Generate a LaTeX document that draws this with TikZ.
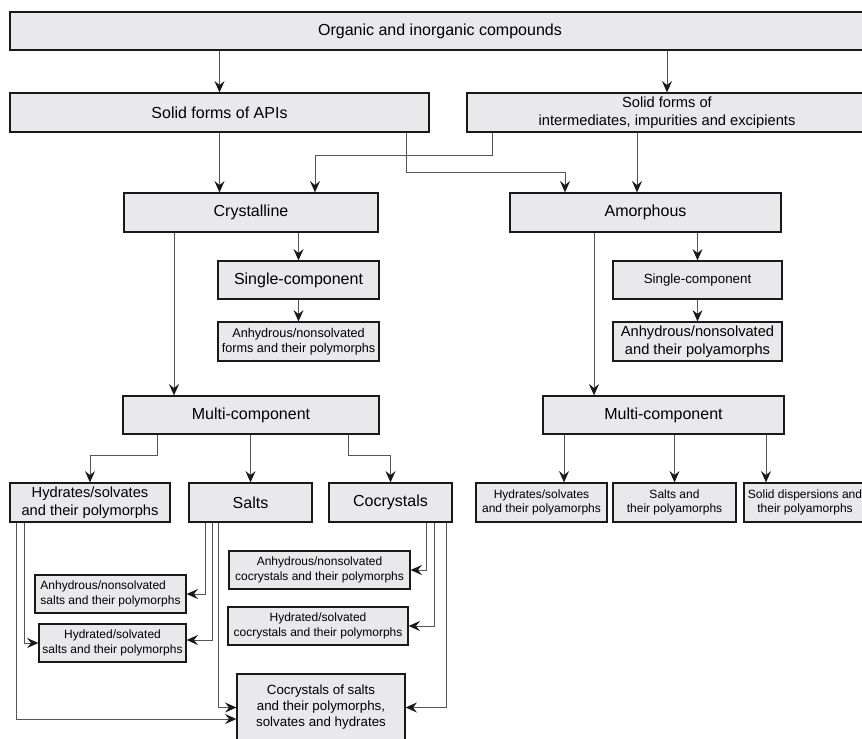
\documentclass[tikz,border=0pt]{standalone}
\usepackage{fontspec}
\setmainfont{Liberation Sans}
\usetikzlibrary{arrows.meta,calc}
\definecolor{boxfill}{RGB}{233,233,235}
\definecolor{linegray}{RGB}{85,85,85}
\tikzset{
  box/.style 2 args={draw=black!90,fill=boxfill,line width=0.9pt,inner sep=0pt,align=center,
    minimum width=#1*0.75pt,minimum height=#2*0.75pt},
  big/.style={font=\fontsize{12}{14.4}\selectfont},
  mid/.style={font=\fontsize{11}{13.6}\selectfont},
  small/.style={font=\fontsize{9}{10.8}\selectfont},
  arr/.style={draw=linegray,line width=0.75pt,-{Stealth[length=8.5pt,width=7.5pt,inset=3pt,color=black!90]}}
}

\begin{document}
\begin{tikzpicture}[x=0.75pt,y=0.75pt,yscale=-1,xscale=1]
\useasboundingbox (0,0) rectangle (862,738);

%Top level
\node[box={860}{38},big] (top) at (440,31) {Organic and inorganic compounds};
\node[box={419}{39},big] (apis) at (219.5,112.5) {Solid forms of APIs};
\node[box={400}{39},mid] (other) at (667,112.5) {Solid forms of\\intermediates, impurities and excipients};

%Crystalline / Amorphous
\node[box={254}{39},big] (crys) at (251,212.5) {Crystalline};
\node[box={271}{39},big] (amor) at (645.5,212.5) {Amorphous};

%Crystalline branch
\node[box={161}{38},big] (single1) at (298.5,280) {Single-component};
\node[box={161}{39},font=\fontsize{9.5}{11.2}\selectfont] (anh1) at (298.5,341.5) {Anhydrous/nonsolvated\\forms and their polymorphs};
\node[box={256}{38},big] (multi1) at (251,415) {Multi-component};
\node[box={160}{39},mid] (hyd) at (90,502.5) {Hydrates/solvates\\and their polymorphs};
\node[box={123}{39},big] (salts) at (250.5,502.5) {Salts};
\node[box={123}{39},big] (cocr) at (390.5,502.5) {Cocrystals};
\node[box={151}{38},small,align=left] (anhs) at (110.5,594) {Anhydrous/nonsolvated\\salts and their polymorphs};
\node[box={147}{38},small] (hyds) at (112.5,643) {Hydrated/solvated\\salts and their polymorphs};
\node[box={181}{38},small] (anhc) at (319.5,570) {Anhydrous/nonsolvated\\cocrystals and their polymorphs};
\node[box={180}{38},small] (hydc) at (318,626) {Hydrated/solvated\\cocrystals and their polymorphs};
\node[box={168}{67},font=\fontsize{10}{12}\selectfont] (cos) at (321,707.5) {Cocrystals of salts\\and their polymorphs,\\solvates and hydrates};

%Amorphous branch
\node[box={169}{38},font=\fontsize{10}{12}\selectfont] (single2) at (697.5,280) {Single-component};
\node[box={169}{39},mid] (anh2) at (697.5,341.5) {Anhydrous/nonsolvated\\and their polyamorphs};
\node[box={241}{38},big] (multi2) at (663.5,415) {Multi-component};
\node[box={131}{39},small] (hyd2) at (541.5,502.5) {Hydrates/solvates\\and their polyamorphs};
\node[box={123}{39},small] (salts2) at (674.5,502.5) {Salts and\\their polyamorphs};
\node[box={122}{39},small] (sd) at (805,502.5) {Solid dispersions and\\their polyamorphs};

%Connectors, top part
\draw[arr] (top.south -| apis.north) -- (apis.north);
\draw[arr] (top.south -| other.north) -- (other.north);
\draw[arr] (apis.south) -- (apis.south |- crys.north);
\draw[arr] ($(apis.south)+(186.5,0)$) -- ++(0,39.5) -| ($(amor.north)+(-80.5,0)$);
\draw[arr] ($(other.south)+(-175,0)$) -- ++(0,23) -| ($(crys.north)+(64,0)$);
\draw[arr] ($(other.south)+(-30,0)$) -- ($(amor.north)+(-8.5,0)$);

%Connectors, crystalline
\coordinate (c1) at ($(crys.south)+(-77,0)$);
\draw[arr] (c1) -- (c1 |- multi1.north);
\draw[arr] (crys.south -| single1.north) -- (single1.north);
\draw[arr] (single1) -- (anh1);
\draw[arr] ($(multi1.south)+(-94,0)$) -- ++(0,21) -| (hyd.north);
\draw[arr] (multi1.south -| salts.north) -- (salts.north);
\draw[arr] ($(multi1.south)+(97,0)$) -- ++(0,21) -| (cocr.north);

%Connectors, amorphous
\coordinate (a1) at ($(amor.south)+(-51.5,0)$);
\draw[arr] (a1) -- (a1 |- multi2.north);
\draw[arr] (amor.south -| single2.north) -- (single2.north);
\draw[arr] (single2) -- (anh2);
\coordinate (m1) at ($(multi2.south)+(-99.5,0)$);
\coordinate (m3) at ($(multi2.south)+(102.5,0)$);
\draw[arr] (m1) -- (m1 |- hyd2.north);
\draw[arr] (multi2.south -| salts2.north) -- (salts2.north);
\draw[arr] (m3) -- (m3 |- sd.north);

%Connectors, bottom left
\draw[arr] ($(hyd.south)+(-74,0)$) |- ($(cos.west)+(0,11.5)$);
\draw[arr] ($(hyd.south)+(-66,0)$) |- (hyds.west);
\draw[arr] ($(salts.south)+(-45.5,0)$) |- (anhs.east);
\draw[arr] ($(salts.south)+(-38.5,0)$) |- ($(hyds.east)+(0,-3)$);
\draw[arr] ($(salts.south)+(-32.5,0)$) |- (cos.west);
\draw[arr] ($(cocr.south)+(35.5,0)$) |- (anhc.east);
\draw[arr] ($(cocr.south)+(43.5,0)$) |- (hydc.east);
\draw[arr] ($(cocr.south)+(55.5,0)$) |- (cos.east);

\end{tikzpicture}
\end{document}
